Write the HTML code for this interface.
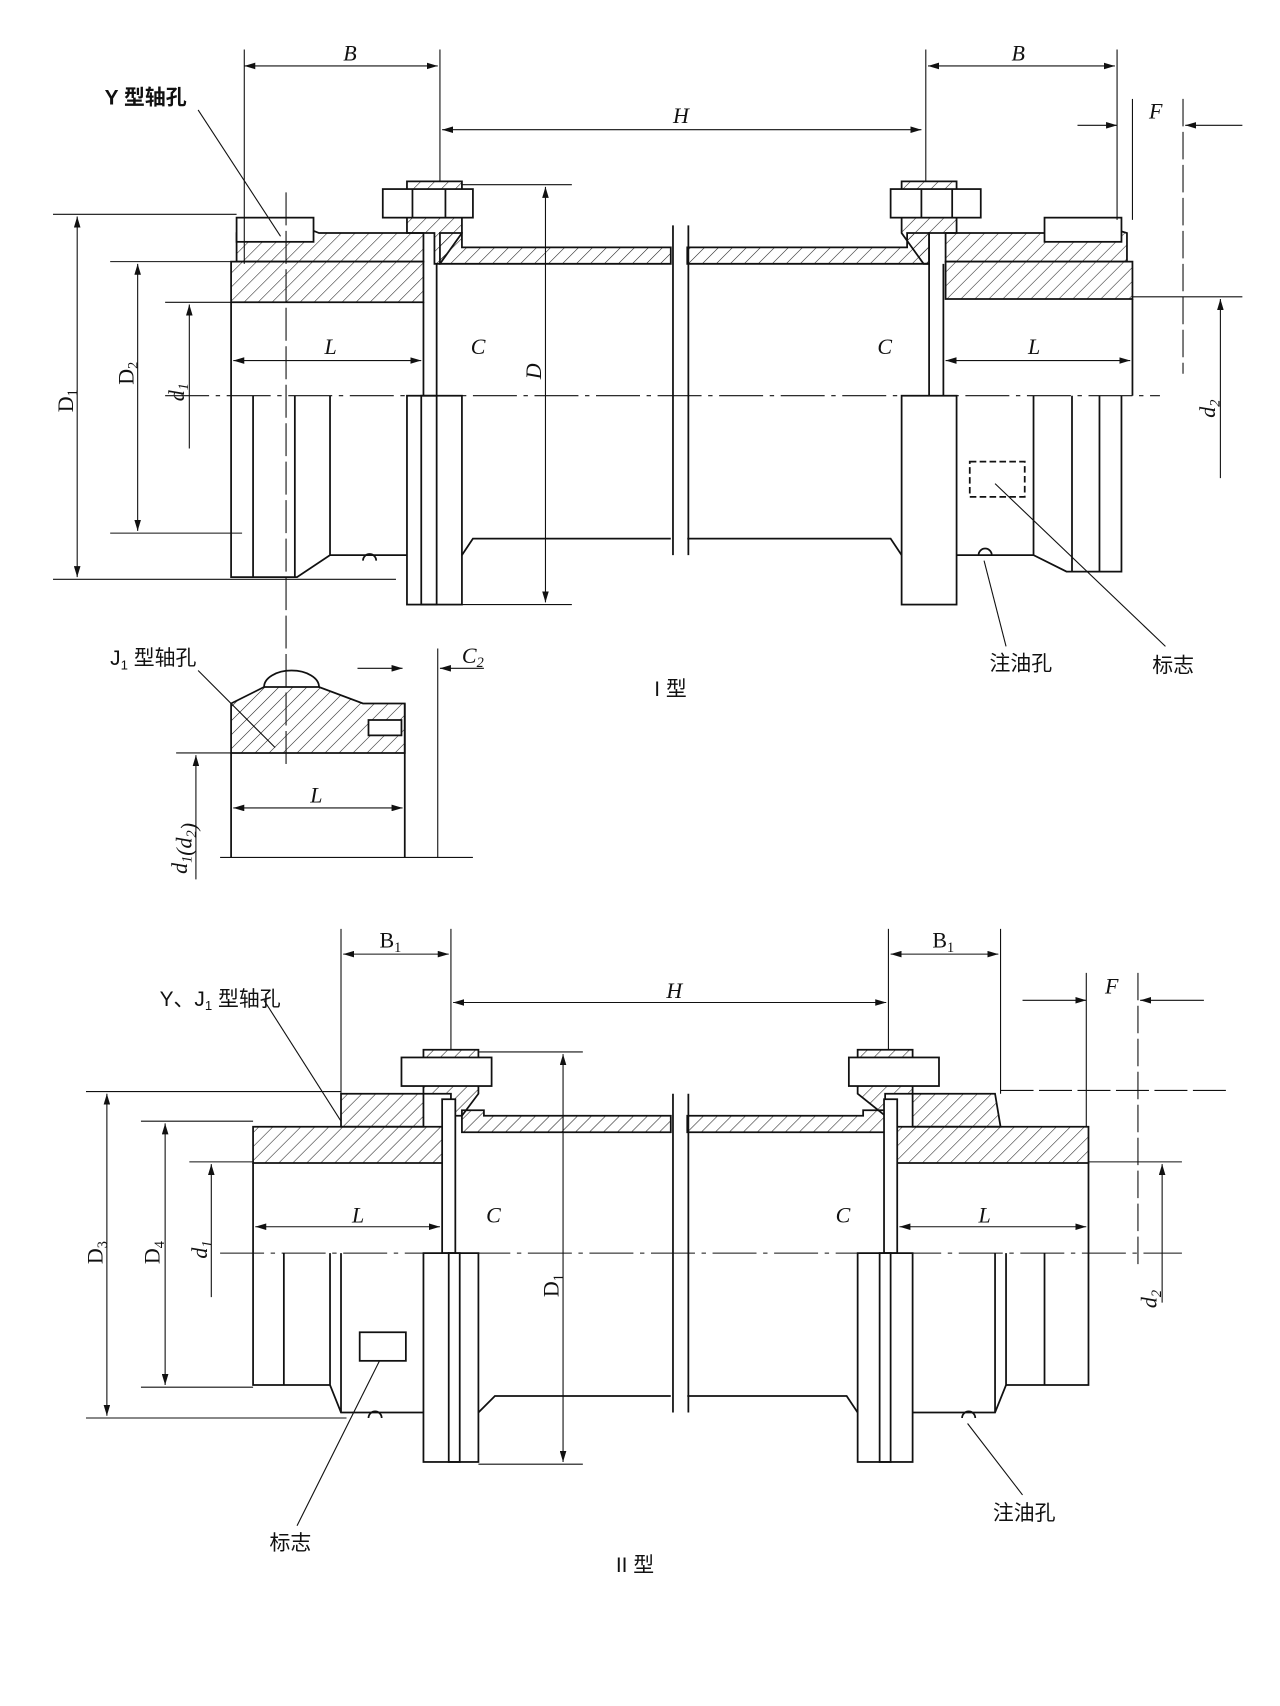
<!DOCTYPE html>
<html><head><meta charset="utf-8">
<style>
html,body{margin:0;padding:0;background:#fff;}
svg{display:block;}
text{font-family:"Liberation Serif","Noto Serif CJK SC",serif;fill:#111;}
.it{font-style:italic;}
.cj{font-family:"Liberation Sans","Noto Sans CJK SC",sans-serif;}
</style></head><body>
<svg width="1280" height="1706" viewBox="0 0 1164 1552" xmlns="http://www.w3.org/2000/svg">
<defs>
<pattern id="h" width="9" height="9" patternUnits="userSpaceOnUse" patternTransform="rotate(45)">
<line x1="0" y1="0" x2="0" y2="9" stroke="#222" stroke-width="1"/></pattern>
<marker id="a" markerWidth="10" markerHeight="6" refX="10" refY="3" orient="auto-start-reverse" markerUnits="userSpaceOnUse"><path d="M0,0 L10,3 L0,6z" fill="#111"/></marker>
</defs>
<g stroke="#111" stroke-width="1.6" fill="none">
<!-- ========== TYPE I ========== -->
<line x1="150" y1="360" x2="1055" y2="360" stroke-dasharray="40,6,4,6" stroke-width="1"/>
<!-- left hub hatched -->
<path d="M210,238 L385,238 L385,275 L210,275 Z" fill="url(#h)"/>
<path d="M215,212 L260,200 L290,212 L385,212 L385,238 L215,238 Z" fill="url(#h)"/>
<!-- left flange -->
<path d="M370,165 L420,165 L420,212 L400,240 L395,240 L395,212 L370,212 Z" fill="url(#h)"/>
<!-- sleeve top -->
<path d="M400,212 L420,212 L420,225 L610,225 L610,240 L400,240 Z" fill="url(#h)"/>
<path d="M625,225 L825,225 L825,212 L845,212 L845,240 L625,240 Z" fill="url(#h)"/>
<!-- right flange -->
<path d="M820,165 L870,165 L870,212 L845,212 L845,240 L840,240 L820,212 Z" fill="url(#h)"/>
<path d="M870,212 L955,212 L985,200 L1025,212 L1025,238 L860,238 L860,212 Z" fill="url(#h)"/>
<path d="M860,238 L1030,238 L1030,272 L860,272 Z" fill="url(#h)"/>
<!-- bolts -->
<rect x="348" y="172" width="82" height="26" fill="#fff"/><line x1="375" y1="172" x2="375" y2="198"/><line x1="405" y1="172" x2="405" y2="198"/>
<rect x="810" y="172" width="82" height="26" fill="#fff"/><line x1="838" y1="172" x2="838" y2="198"/><line x1="866" y1="172" x2="866" y2="198"/>
<rect x="215" y="198" width="70" height="22" fill="#fff"/>
<rect x="950" y="198" width="70" height="22" fill="#fff"/>
<!-- lower half outline left -->
<path d="M210,360 L210,525 L270,525 L300,505 L370,505 M230,360 L230,525 M268,360 L268,525 M300,360 L300,505"/>
<rect x="370" y="360" width="50" height="190"/>
<rect x="383" y="360" width="14" height="190"/>
<path d="M420,505 L430,490 L610,490 M625,490 L810,490 L820,505"/>
<rect x="820" y="360" width="50" height="190"/>
<path d="M870,505 L940,505 L970,520 L1020,520 L1020,360 M940,360 L940,505 M975,360 L975,520 M1000,360 L1000,520"/>
<line x1="612" y1="205" x2="612" y2="505"/><line x1="626" y1="205" x2="626" y2="505"/>
<line x1="385" y1="275" x2="385" y2="360"/><line x1="397" y1="240" x2="397" y2="360"/>
<line x1="845" y1="240" x2="845" y2="360"/><line x1="858" y1="240" x2="858" y2="360"/>
<line x1="210" y1="275" x2="210" y2="360"/><line x1="1030" y1="272" x2="1030" y2="360"/>
<rect x="882" y="420" width="50" height="32" stroke-dasharray="6,3"/>
<path d="M330,510 a6,6 0 0 1 12,0 M890,505 a6,6 0 0 1 12,0"/>
<!-- dims top -->
<g stroke-width="1">
<line x1="222" y1="45" x2="222" y2="240"/><line x1="400" y1="45" x2="400" y2="165"/>
<line x1="222" y1="60" x2="398" y2="60" marker-start="url(#a)" marker-end="url(#a)"/>
<line x1="842" y1="45" x2="842" y2="165"/><line x1="1016" y1="45" x2="1016" y2="200"/>
<line x1="844" y1="60" x2="1014" y2="60" marker-start="url(#a)" marker-end="url(#a)"/>
<line x1="402" y1="118" x2="838" y2="118" marker-start="url(#a)" marker-end="url(#a)"/>
<line x1="980" y1="114" x2="1016" y2="114" marker-end="url(#a)"/><line x1="1130" y1="114" x2="1078" y2="114" marker-end="url(#a)"/>
<line x1="1030" y1="90" x2="1030" y2="200"/><line x1="1076" y1="90" x2="1076" y2="340" stroke-dasharray="25,5"/>
<line x1="48" y1="195" x2="215" y2="195"/><line x1="48" y1="527" x2="360" y2="527"/>
<line x1="70" y1="197" x2="70" y2="525" marker-start="url(#a)" marker-end="url(#a)"/>
<line x1="100" y1="238" x2="210" y2="238"/><line x1="100" y1="485" x2="220" y2="485"/>
<line x1="125" y1="240" x2="125" y2="483" marker-start="url(#a)" marker-end="url(#a)"/>
<line x1="150" y1="275" x2="210" y2="275"/><line x1="172" y1="277" x2="172" y2="408" marker-start="url(#a)"/>
<line x1="420" y1="168" x2="520" y2="168"/><line x1="420" y1="550" x2="520" y2="550"/>
<line x1="496" y1="170" x2="496" y2="548" marker-start="url(#a)" marker-end="url(#a)"/>
<line x1="1030" y1="270" x2="1130" y2="270"/><line x1="1110" y1="272" x2="1110" y2="435" marker-start="url(#a)"/>
<line x1="212" y1="328" x2="383" y2="328" marker-start="url(#a)" marker-end="url(#a)"/>
<line x1="860" y1="328" x2="1028" y2="328" marker-start="url(#a)" marker-end="url(#a)"/>
<line x1="260" y1="175" x2="260" y2="700" stroke-dasharray="30,5"/>
<line x1="180" y1="100" x2="255" y2="215"/>
<line x1="1060" y1="588" x2="905" y2="440"/><line x1="915" y1="588" x2="895" y2="510"/>
</g>
<!-- J1 detail -->
<path d="M210,640 L240,625 L290,625 L330,640 L368,640 L368,685 L210,685 Z" fill="url(#h)"/>
<path d="M240,625 a25,15 0 0 1 50,0"/>
<rect x="335" y="655" width="30" height="14" fill="#fff"/>
<line x1="210" y1="685" x2="210" y2="780"/><line x1="368" y1="640" x2="368" y2="780"/>
<g stroke-width="1">
<line x1="398" y1="590" x2="398" y2="780"/><line x1="200" y1="780" x2="430" y2="780"/>
<line x1="325" y1="608" x2="366" y2="608" marker-end="url(#a)"/><line x1="440" y1="608" x2="400" y2="608" marker-end="url(#a)"/>
<line x1="212" y1="735" x2="366" y2="735" marker-start="url(#a)" marker-end="url(#a)"/>
<line x1="160" y1="685" x2="210" y2="685"/><line x1="178" y1="687" x2="178" y2="800" marker-start="url(#a)"/>
<line x1="180" y1="610" x2="250" y2="680"/>
</g>
<!-- ========== TYPE II ========== -->
<line x1="200" y1="1140" x2="1075" y2="1140" stroke-dasharray="40,6,4,6" stroke-width="1"/>
<path d="M230,1025 L410,1025 L410,1058 L230,1058 Z" fill="url(#h)"/>
<path d="M310,995 L385,995 L385,1025 L310,1025 Z" fill="url(#h)"/>
<path d="M385,955 L435,955 L435,995 L420,1015 L410,1015 L410,995 L385,995 Z" fill="url(#h)"/>
<path d="M420,1010 L440,1010 L440,1015 L610,1015 L610,1030 L420,1030 Z" fill="url(#h)"/>
<path d="M625,1015 L785,1015 L785,1010 L805,1010 L805,1030 L625,1030 Z" fill="url(#h)"/>
<path d="M780,955 L830,955 L830,995 L805,995 L805,1015 L780,995 Z" fill="url(#h)"/>
<path d="M830,995 L905,995 L910,1025 L830,1025 Z" fill="url(#h)"/>
<path d="M815,1025 L990,1025 L990,1058 L815,1058 Z" fill="url(#h)"/>
<rect x="365" y="962" width="82" height="26" fill="#fff"/>
<rect x="772" y="962" width="82" height="26" fill="#fff"/>
<rect x="402" y="1000" width="12" height="140" fill="#fff"/><rect x="804" y="1000" width="12" height="140" fill="#fff"/>
<path d="M230,1140 L230,1260 L300,1260 L310,1285 L385,1285 M258,1140 L258,1260 M300,1140 L300,1260 M310,1140 L310,1285"/>
<rect x="385" y="1140" width="50" height="190"/><rect x="408" y="1140" width="10" height="190"/>
<path d="M435,1285 L450,1270 L610,1270 M625,1270 L770,1270 L780,1285"/>
<rect x="780" y="1140" width="50" height="190"/><rect x="800" y="1140" width="10" height="190"/>
<path d="M830,1285 L905,1285 L915,1260 L990,1260 L990,1140 M905,1140 L905,1285 M915,1140 L915,1260 M950,1140 L950,1260"/>
<line x1="612" y1="995" x2="612" y2="1285"/><line x1="626" y1="995" x2="626" y2="1285"/>
<line x1="230" y1="1058" x2="230" y2="1140"/><line x1="990" y1="1058" x2="990" y2="1140"/>
<rect x="327" y="1212" width="42" height="26"/>
<path d="M335,1290 a6,6 0 0 1 12,0 M875,1290 a6,6 0 0 1 12,0"/>
<g stroke-width="1">
<line x1="310" y1="845" x2="310" y2="995"/><line x1="410" y1="845" x2="410" y2="955"/>
<line x1="312" y1="868" x2="408" y2="868" marker-start="url(#a)" marker-end="url(#a)"/>
<line x1="808" y1="845" x2="808" y2="955"/><line x1="910" y1="845" x2="910" y2="995"/>
<line x1="810" y1="868" x2="908" y2="868" marker-start="url(#a)" marker-end="url(#a)"/>
<line x1="412" y1="912" x2="806" y2="912" marker-start="url(#a)" marker-end="url(#a)"/>
<line x1="930" y1="910" x2="988" y2="910" marker-end="url(#a)"/><line x1="1095" y1="910" x2="1037" y2="910" marker-end="url(#a)"/>
<line x1="988" y1="885" x2="988" y2="1025"/><line x1="1035" y1="885" x2="1035" y2="1150" stroke-dasharray="25,5"/>
<line x1="910" y1="992" x2="1115" y2="992" stroke-dasharray="30,5"/>
<line x1="78" y1="993" x2="310" y2="993"/><line x1="78" y1="1290" x2="315" y2="1290"/>
<line x1="97" y1="995" x2="97" y2="1288" marker-start="url(#a)" marker-end="url(#a)"/>
<line x1="128" y1="1020" x2="230" y2="1020"/><line x1="128" y1="1262" x2="230" y2="1262"/>
<line x1="150" y1="1022" x2="150" y2="1260" marker-start="url(#a)" marker-end="url(#a)"/>
<line x1="172" y1="1057" x2="230" y2="1057"/><line x1="192" y1="1059" x2="192" y2="1180" marker-start="url(#a)"/>
<line x1="435" y1="957" x2="530" y2="957"/><line x1="435" y1="1332" x2="530" y2="1332"/>
<line x1="512" y1="959" x2="512" y2="1330" marker-start="url(#a)" marker-end="url(#a)"/>
<line x1="990" y1="1057" x2="1075" y2="1057"/><line x1="1057" y1="1059" x2="1057" y2="1185" marker-start="url(#a)"/>
<line x1="232" y1="1116" x2="400" y2="1116" marker-start="url(#a)" marker-end="url(#a)"/>
<line x1="818" y1="1116" x2="988" y2="1116" marker-start="url(#a)" marker-end="url(#a)"/>
<line x1="240" y1="910" x2="310" y2="1020"/>
<line x1="270" y1="1388" x2="345" y2="1238"/><line x1="930" y1="1360" x2="880" y2="1295"/>
</g>
</g>
<!-- labels -->
<g font-size="20">
<text x="312" y="55" class="it">B</text><text x="920" y="55" class="it">B</text>
<text x="612" y="112" class="it">H</text><text x="1045" y="108" class="it">F</text>
<text x="295" y="322" class="it">L</text><text x="935" y="322" class="it">L</text>
<text x="428" y="322" class="it">C</text><text x="798" y="322" class="it">C</text>
<text x="420" y="603" class="it">C<tspan font-size="13" dy="4">2</tspan></text>
<text x="282" y="730" class="it">L</text>
<text x="345" y="862">B<tspan font-size="13" dy="4">1</tspan></text>
<text x="848" y="862">B<tspan font-size="13" dy="4">1</tspan></text>
<text x="606" y="908" class="it">H</text><text x="1005" y="904" class="it">F</text>
<text x="320" y="1112" class="it">L</text><text x="890" y="1112" class="it">L</text>
<text x="442" y="1112" class="it">C</text><text x="760" y="1112" class="it">C</text>
<text transform="translate(66,375) rotate(-90)">D<tspan font-size="13" dy="4">1</tspan></text>
<text transform="translate(121,350) rotate(-90)">D<tspan font-size="13" dy="4">2</tspan></text>
<text transform="translate(167,365) rotate(-90)" class="it">d<tspan font-size="13" dy="4">1</tspan></text>
<text transform="translate(492,345) rotate(-90)" class="it">D</text>
<text transform="translate(1105,380) rotate(-90)" class="it">d<tspan font-size="13" dy="4">2</tspan></text>
<text transform="translate(170,795) rotate(-90)" class="it">d<tspan font-size="13" dy="4">1</tspan>(d<tspan font-size="13" dy="4">2</tspan>)</text>
<text transform="translate(93,1150) rotate(-90)">D<tspan font-size="13" dy="4">3</tspan></text>
<text transform="translate(145,1150) rotate(-90)">D<tspan font-size="13" dy="4">4</tspan></text>
<text transform="translate(188,1145) rotate(-90)" class="it">d<tspan font-size="13" dy="4">1</tspan></text>
<text transform="translate(508,1180) rotate(-90)">D<tspan font-size="13" dy="4">1</tspan></text>
<text transform="translate(1052,1190) rotate(-90)" class="it">d<tspan font-size="13" dy="4">2</tspan></text>
<text x="95" y="95" class="cj" font-weight="bold" font-size="19">Y 型轴孔</text>
<text x="100" y="605" class="cj" font-size="19">J<tspan font-size="12" dy="4">1</tspan><tspan dy="-4"> 型轴孔</tspan></text>
<text x="595" y="633" class="cj" font-size="19">I 型</text>
<text x="900" y="610" class="cj" font-size="19">注油孔</text>
<text x="1048" y="612" class="cj" font-size="19">标志</text>
<text x="145" y="915" class="cj" font-size="19">Y、J<tspan font-size="12" dy="4">1</tspan><tspan dy="-4"> 型轴孔</tspan></text>
<text x="245" y="1410" class="cj" font-size="19">标志</text>
<text x="903" y="1383" class="cj" font-size="19">注油孔</text>
<text x="560" y="1430" class="cj" font-size="19">II 型</text>
</g>
</svg>
</body></html>
